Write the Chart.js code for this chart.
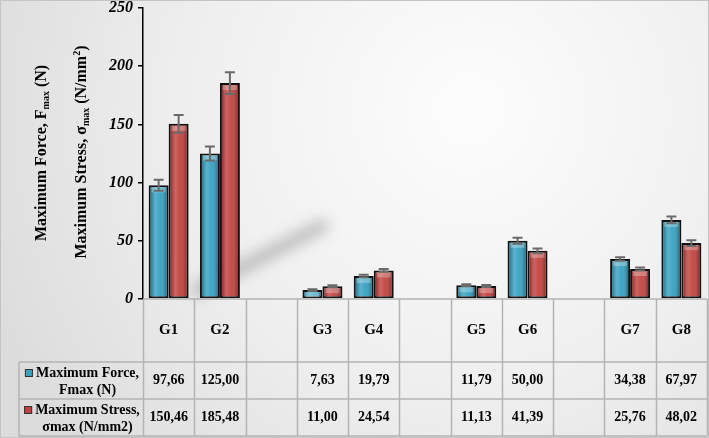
<!DOCTYPE html>
<html lang="en">
<head>
  <meta charset="UTF-8" />
  <title>Maximum Force and Maximum Stress by Group</title>
  <script src="https://cdn.jsdelivr.net/npm/chart.js"></script>
  <style>
    body { margin: 0; background: #fff; }
    #wrap { width: 709px; height: 438px; position: relative; }
  </style>
</head>
<body>
  <div id="wrap"><canvas id="grafico"></canvas></div>

  <script>
    // data (blank columns are spacers between pairs)
    const groups = ['G1', 'G2', '', 'G3', 'G4', '', 'G5', 'G6', '', 'G7', 'G8'];
    const forceVals = [97.66, 125.00, null, 7.63, 19.79, null, 11.79, 50.00, null, 34.38, 67.97];
    const stressVals = [150.46, 185.48, null, 11.00, 24.54, null, 11.13, 41.39, null, 25.76, 48.02];
    const forceErr = [4.7, 6.0, null, 0.7, 1.0, null, 0.9, 2.6, null, 1.5, 3.0];
    const stressErr = [7.7, 9.3, null, 0.8, 1.2, null, 0.8, 2.0, null, 1.2, 2.5];
    const seriesNames = [['Maximum Force,', 'Fmax (N)'], ['Maximum Stress,', 'σmax (N/mm2)']];
    const yMin = 0, yMax = 250, yStep = 50;

    const blue = '#36a1c1';
    const red = '#c1423f';
    const serif = "'Liberation Serif', 'Times New Roman', serif";

    // background + frame + soft shadow
    const fundo = {
      id: 'fundo',
      beforeDraw(chart) {
        const c = chart.ctx;
        const w = chart.width, h = chart.height;
        c.save();
        const g = c.createRadialGradient(470, 110, 20, 470, 110, 520);
        g.addColorStop(0, '#fcfcfc');
        g.addColorStop(0.55, '#eeeeee');
        g.addColorStop(1, '#dcdcdc');
        c.fillStyle = g;
        c.fillRect(0, 0, w, h);
        c.strokeStyle = '#c4c4c4';
        c.lineWidth = 1;
        c.strokeRect(0.5, 0.5, w - 1, h - 1);
        c.restore();
      },
      beforeDatasetsDraw(chart) {
        const c = chart.ctx;
        c.save();
        c.filter = 'blur(7px)';
        c.strokeStyle = 'rgba(50,50,50,0.28)';
        c.lineCap = 'round';
        c.lineWidth = 13;
        c.beginPath();
        c.moveTo(198, 290);
        c.lineTo(322, 226);
        c.stroke();
        c.restore();
      }
    };

    // glossy overlay on the bars and the error bars
    const barras = {
      id: 'barras',
      afterDatasetsDraw(chart) {
        const c = chart.ctx;
        const y = chart.scales.y;
        const errs = [forceErr, stressErr];
        c.save();
        chart.data.datasets.forEach((ds, di) => {
          const meta = chart.getDatasetMeta(di);
          meta.data.forEach((bar, i) => {
            if (ds.data[i] == null) return;
            const left = bar.x - bar.width / 2 + 2;
            const right = bar.x + bar.width / 2 - 2;
            const top = bar.y + 2;
            const bottom = bar.base - 1;
            if (bottom <= top) return;
            const g = c.createLinearGradient(left, 0, right, 0);
            g.addColorStop(0, 'rgba(0,0,0,0.25)');
            g.addColorStop(0.3, 'rgba(255,255,255,0.18)');
            g.addColorStop(0.6, 'rgba(255,255,255,0.05)');
            g.addColorStop(1, 'rgba(0,0,0,0.3)');
            c.fillStyle = g;
            c.fillRect(left, top, right - left, bottom - top);
            // light band at the top
            const hh = Math.min(5, bottom - top);
            c.fillStyle = 'rgba(255,255,255,0.28)';
            c.fillRect(left + 1, top, right - left - 2, hh);
          });
        });
        // error bars
        c.strokeStyle = '#6a6a6a';
        c.lineWidth = 2;
        chart.data.datasets.forEach((ds, di) => {
          const meta = chart.getDatasetMeta(di);
          meta.data.forEach((bar, i) => {
            const v = ds.data[i];
            const e = errs[di][i];
            if (v == null || e == null) return;
            const y1 = y.getPixelForValue(v + e);
            const y2 = y.getPixelForValue(v - e);
            c.beginPath();
            c.moveTo(bar.x, y1); c.lineTo(bar.x, y2);
            c.moveTo(bar.x - 5, y1); c.lineTo(bar.x + 5, y1);
            c.moveTo(bar.x - 5, y2); c.lineTo(bar.x + 5, y2);
            c.stroke();
          });
        });
        c.restore();
      }
    };

    // y axis titles with subscripts, drawn rotated
    function tituloEixo(c, x, yc, parts) {
      c.save();
      c.translate(x, yc);
      c.rotate(-Math.PI / 2);
      let total = 0;
      parts.forEach(p => {
        c.font = 'bold ' + p.size + 'px ' + serif;
        p.w = c.measureText(p.t).width;
        total += p.w;
      });
      let px = -total / 2;
      c.fillStyle = '#000';
      c.textBaseline = 'middle';
      parts.forEach(p => {
        c.font = 'bold ' + p.size + 'px ' + serif;
        c.fillText(p.t, px, p.dy || 0);
        px += p.w;
      });
      c.restore();
    }

    // data table under the plot, aligned with the x scale
    const tabela = {
      id: 'tabela',
      afterDraw(chart) {
        const c = chart.ctx;
        const area = chart.chartArea;
        const x = chart.scales.x;
        const n = groups.length;
        const step = (area.right - area.left) / n;
        const top = area.bottom;
        const row1 = top + 63;
        const row2 = row1 + 37;
        const bottom = row2 + 37;
        const legLeft = 19;

        c.save();
        // axis titles
        tituloEixo(c, 42, 153, [
          { t: 'Maximum Force, F', size: 16 },
          { t: 'max', size: 10, dy: 4 },
          { t: ' (N)', size: 16 }
        ]);
        tituloEixo(c, 82, 152, [
          { t: 'Maximum Stress, σ', size: 16 },
          { t: 'max', size: 10, dy: 4 },
          { t: ' (N/mm', size: 16 },
          { t: '2', size: 10, dy: -5 },
          { t: ')', size: 16 }
        ]);

        c.strokeStyle = '#b4b4b4';
        c.lineWidth = 1.5;
        c.beginPath();
        // baseline and row lines
        c.moveTo(area.left, top); c.lineTo(area.right, top);
        c.moveTo(legLeft, row1); c.lineTo(area.right, row1);
        c.moveTo(legLeft, row2); c.lineTo(area.right, row2);
        c.moveTo(legLeft, bottom); c.lineTo(area.right, bottom);
        c.moveTo(legLeft, row1); c.lineTo(legLeft, bottom);
        // column lines
        for (let i = 0; i <= n; i++) {
          const lx = Math.round(area.left + i * step) + 0.5;
          c.moveTo(lx, top); c.lineTo(lx, bottom);
        }
        c.stroke();

        c.fillStyle = '#000';
        c.textAlign = 'center';
        c.textBaseline = 'middle';
        c.font = 'bold 15px ' + serif;
        groups.forEach((g, i) => {
          const cx = x.getPixelForValue(i);
          c.fillText(g, cx, (top + row1) / 2);
        });
        c.font = 'bold 14px ' + serif;
        groups.forEach((g, i) => {
          const cx = x.getPixelForValue(i);
          const f = forceVals[i], s = stressVals[i];
          if (f != null) c.fillText(f.toFixed(2).replace('.', ','), cx, (row1 + row2) / 2);
          if (s != null) c.fillText(s.toFixed(2).replace('.', ','), cx, (row2 + bottom) / 2);
        });

        // legend cells
        const cores = [blue, red];
        [row1, row2].forEach((ry, k) => {
          const [l1, l2] = seriesNames[k];
          const tw = c.measureText(l1).width;
          const mid = (legLeft + area.left) / 2 + 1;
          const startX = mid - (tw + 11) / 2;
          const ly1 = ry + 11, ly2 = ry + 28;
          c.fillStyle = cores[k];
          c.fillRect(startX, ly1 - 4, 8, 8);
          c.strokeStyle = '#333';
          c.lineWidth = 1;
          c.strokeRect(startX + 0.5, ly1 - 3.5, 7, 7);
          c.fillStyle = '#000';
          c.textAlign = 'left';
          c.fillText(l1, startX + 11, ly1);
          c.textAlign = 'center';
          c.fillText(l2, startX + 11 + tw / 2, ly2);
        });
        c.restore();
      }
    };

    const ctx = document.getElementById('grafico').getContext('2d');
    new Chart(ctx, {
      type: 'bar',
      data: {
        labels: groups,
        datasets: [
          {
            label: seriesNames[0].join(' '),
            data: forceVals,
            backgroundColor: blue,
            borderColor: '#111',
            borderWidth: 2,
            borderSkipped: false
          },
          {
            label: seriesNames[1].join(' '),
            data: stressVals,
            backgroundColor: red,
            borderColor: '#111',
            borderWidth: 2,
            borderSkipped: false
          }
        ]
      },
      options: {
        responsive: true,
        maintainAspectRatio: false,
        animation: false,
        layout: { padding: { left: 0, right: 2, top: 8, bottom: 139 } },
        datasets: { bar: { categoryPercentage: 0.78, barPercentage: 1 } },
        scales: {
          x: { display: false },
          y: {
            min: yMin,
            max: yMax,
            ticks: {
              stepSize: yStep,
              color: '#000',
              padding: 5,
              font: { family: serif, size: 16, weight: 'bold', style: 'italic' }
            },
            grid: { drawOnChartArea: false, drawTicks: true, tickLength: 5, color: '#000', lineWidth: 1.5 },
            border: { color: '#000', width: 1.5 },
            afterFit(scale) {
              scale.width = 143;
              scale.paddingTop = 0;
              scale.paddingBottom = 0;
            }
          }
        },
        plugins: {
          legend: { display: false },
          tooltip: { enabled: false }
        }
      },
      plugins: [fundo, barras, tabela]
    });
  </script>
</body>
</html>
